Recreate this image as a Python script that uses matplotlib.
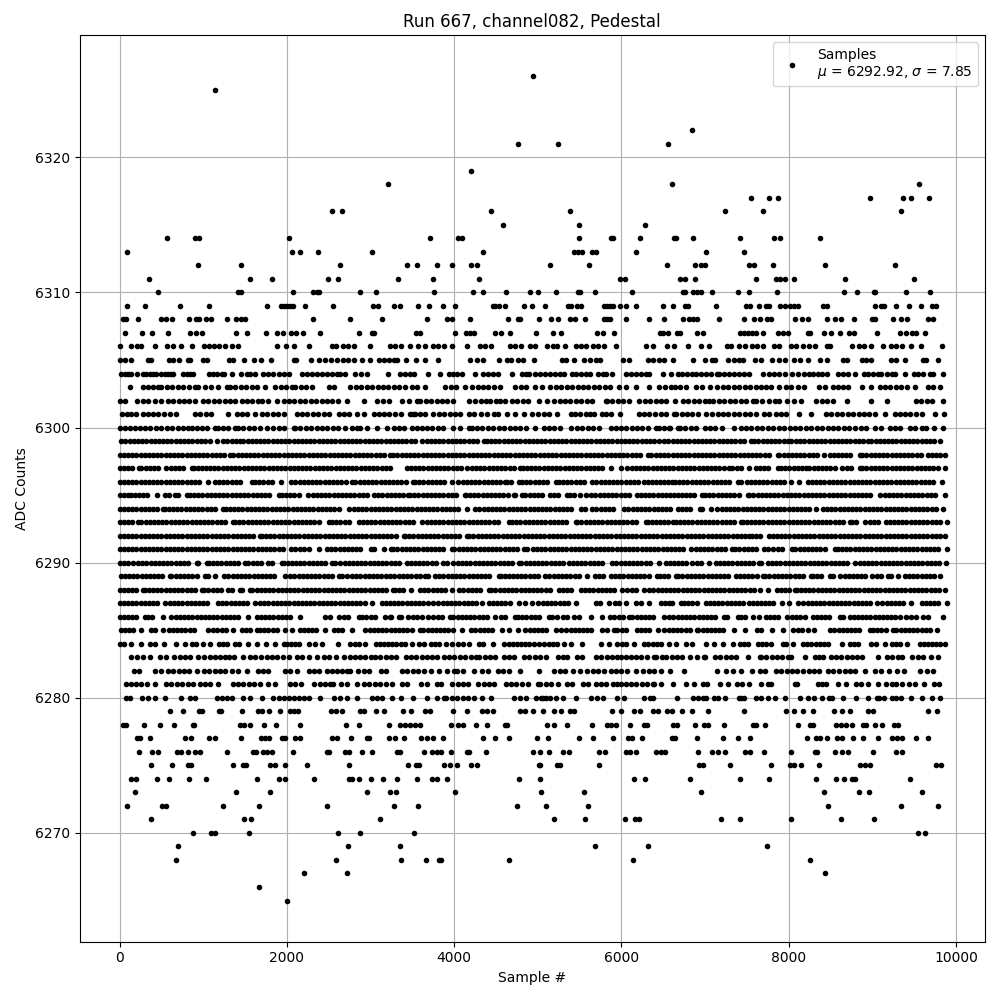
import matplotlib
matplotlib.use('Agg')
import matplotlib.pyplot as plt

# sample positions per ADC level (estimates in the dense rows)
row_6326 = [4940]
row_6325 = [1136]
row_6322 = [6840]
row_6321 = [4760, 5244, 6552]
row_6319 = [4196]
row_6318 = [3212, 6600, 9552]
row_6317 = [7548, 7764, 7872, 8976, 9372, 9468, 9672]
row_6316 = [2540, 2660, 4436, 5388, 7236, 7692, 9348]
row_6315 = [4580, 5496, 6276]
row_6314 = [572, 896, 948, 2024, 3716, 4052, 4088, 5496, 5880, 5904, 6228, 6624, 6648, 6852, 7416, 7824, 7896, 8376]
row_6313 = [92, 2060, 2156, 2372, 3020, 4340, 5436, 5484, 5532, 5652, 5700, 6180, 7008, 7464]
row_6312 = [932, 1448, 2636, 3440, 3560, 3800, 3980, 4196, 4268, 5148, 5616, 6540, 6876, 6948, 6996, 7524, 7584, 7812, 8436, 9276]
row_6311 = [356, 1556, 1820, 2492, 2612, 3332, 3752, 4292, 5988, 6048, 6696, 6756, 6876, 7608, 7848, 7896, 7956, 8064, 8676, 9504]
row_6310 = [464, 1412, 1448, 2072, 2312, 2360, 2384, 2876, 3068, 3764, 4220, 4340, 4616, 4904, 5000, 5220, 5484, 5508, 5688, 6132,
            6732, 6756, 6852, 6900, 6948, 7080, 7392, 7524, 7860, 8664, 8820, 9024, 9036, 9408, 9684]
row_6309 = [92, 308, 728, 1064, 1760, 1928, 1964, 2000, 2036, 2072, 2216, 2552, 3032, 3092, 3284, 3356, 3572, 3704, 3872, 4016,
            4460, 4484, 4532, 4604, 4832, 4928, 5088, 5364, 5400, 5472, 5520, 5796, 5832, 5868, 5904, 5988, 6060, 6180, 6492, 6612,
            6756, 6792, 7128, 7488, 7536, 7644, 7728, 7764, 7896, 7956, 8016, 8064, 8112, 8412, 8460, 9036, 9108, 9144, 9288, 9444,
            9576, 9708, 9756]
row_6308 = [44, 80, 224, 500, 560, 632, 824, 908, 944, 1028, 1088, 1280, 1388, 1448, 1496, 2312, 2756, 3140, 3680, 3920,
            3980, 4184, 4640, 4760, 4784, 5016, 5160, 5244, 5388, 5448, 5568, 5796, 5832, 5868, 6060, 6324, 6504, 6732, 6804, 6852,
            6900, 7164, 7464, 7584, 7656, 7740, 7788, 8076, 8160, 8232, 8460, 8556, 8628, 8784, 9000, 9036, 9252, 9348, 9420, 9660, 9720]
row_6307 = [68, 272, 392, 584, 836, 908, 980, 1388, 1520, 1748, 1880, 1952, 2048, 2108, 2192, 2396, 2864, 3020, 3044, 3548,
            3596, 4016, 4136, 4184, 4232, 4484, 4556, 4664, 4976, 5184, 5280, 5712, 5784, 5916, 6456, 6492, 6552, 6660, 6696, 6900,
            6972, 7416, 7464, 7512, 7560, 7608, 7692, 7872, 7932, 7992, 8232, 8256, 8424, 8508, 8616, 8724, 8784, 9060, 9336, 9408,
            9480, 9528, 9624]
row_6306 = [8, 140, 212, 260, 428, 572, 644, 740, 860, 1004, 1064, 1124, 1184, 1256, 1340, 1412, 1880, 1988, 2084, 2264,
            2540, 2588, 2672, 2732, 2804, 2996, 3236, 3296, 3368, 3476, 3572, 3656, 3752, 3812, 3884, 3980, 4148, 4304, 4364, 4436,
            4664, 4724, 4796, 4904, 4964, 5112, 5184, 5232, 5328, 5460, 5520, 5580, 5664, 5724, 5796, 5940, 6288, 6372, 6540, 6624,
            6792, 6948, 7044, 7260, 7308, 7404, 7476, 7560, 7620, 7692, 7824, 7884, 8028, 8088, 8172, 8244, 8316, 8460, 8496, 8760,
            8844, 8904, 8988, 9132, 9228, 9288, 9360, 9468, 9576, 9828]
row_6305 = [8, 68, 140, 344, 380, 596, 644, 716, 812, 836, 992, 1040, 1304, 1352, 1484, 1604, 1688, 1808, 2084, 2108,
            2288, 2384, 2456, 2528, 2600, 2672, 2732, 2804, 2900, 2996, 3104, 3164, 3224, 3284, 3320, 3428, 3548, 3656, 3812, 4184,
            4268, 4340, 4532, 4628, 4676, 4760, 4820, 4952, 5292, 5340, 5436, 5556, 5628, 5692, 5748, 6024, 6096, 6312, 6372, 6444,
            6504, 6612, 6852, 6996, 7080, 7116, 7272, 7344, 7404, 7452, 7596, 7668, 7800, 7884, 7956, 8064, 8136, 8232, 8376, 8460,
            8652, 8700, 8880, 8928, 8988, 9228, 9288, 9396, 9604, 9640, 9780]
row_6304 = [20, 60, 100, 140, 208, 280, 320, 360, 400, 440, 500, 540, 580, 620, 640, 760, 800, 840, 872, 1068,
            1120, 1170, 1220, 1252, 1340, 1452, 1520, 1560, 1620, 1720, 1780, 1840, 1900, 1960, 2020, 2180, 2240, 2300, 2360, 2420,
            2480, 2540, 2600, 2640, 2700, 2812, 2892, 2960, 3212, 3352, 3410, 3470, 3524, 3692, 3832, 3940, 3990, 4040, 4092, 4252,
            4340, 4400, 4460, 4520, 4692, 4812, 4860, 4900, 4972, 5030, 5090, 5150, 5210, 5270, 5312, 5404, 5460, 5520, 5580, 5620,
            5724, 5780, 5820, 5892, 6052, 6110, 6170, 6230, 6290, 6332, 6492, 6592, 6672, 6728, 6788, 6848, 6888, 6950, 7010, 7070,
            7148, 7168, 7230, 7290, 7350, 7410, 7470, 7520, 7696, 7768, 7830, 7890, 7950, 8040, 8108, 8188, 8240, 8296, 8350, 8400,
            8452, 8588, 8648, 8708, 8788, 8896, 8950, 9010, 9068, 9108, 9170, 9230, 9268, 9388, 9496, 9550, 9610, 9688, 9728, 9840]
row_6303 = [120, 280, 340, 400, 460, 500, 565, 630, 695, 760, 825, 900, 940, 1020, 1088, 1180, 1280, 1320, 1385, 1450,
            1515, 1580, 1645, 1740, 1860, 1925, 1990, 2060, 2100, 2165, 2230, 2300, 2500, 2560, 2760, 2825, 2890, 2955, 3020, 3085,
            3150, 3215, 3280, 3340, 3412, 3492, 3552, 3652, 3892, 3960, 4025, 4132, 4212, 4280, 4345, 4410, 4475, 4552, 4732, 4800,
            4865, 4972, 5052, 5152, 5212, 5280, 5345, 5410, 5475, 5540, 5605, 5670, 5735, 5800, 5865, 5972, 6052, 6172, 6332, 6452,
            6520, 6590, 6640, 6700, 6768, 6888, 6968, 7056, 7148, 7215, 7280, 7345, 7410, 7475, 7540, 7605, 7670, 7728, 7788, 7888,
            7968, 8028, 8108, 8188, 8368, 8430, 8528, 8588, 8650, 8708, 8880, 8988, 9088, 9150, 9215, 9280, 9345, 9410, 9508, 9668, 9730, 9808]
row_6302 = [0, 60, 212, 275, 340, 420, 500, 580, 640, 705, 770, 835, 900, 1000, 1060, 1125, 1190, 1255, 1320, 1385,
            1460, 1520, 1585, 1650, 1700, 1780, 1880, 1960, 2025, 2090, 2155, 2220, 2285, 2350, 2415, 2480, 2545, 2610, 2720, 2920,
            3080, 3150, 3220, 3372, 3460, 3552, 3592, 3660, 3725, 3790, 3852, 3912, 3992, 4172, 4252, 4320, 4385, 4432, 4500, 4552,
            4612, 4692, 4752, 4820, 4885, 5012, 5112, 5192, 5260, 5325, 5390, 5455, 5520, 5585, 5650, 5812, 5832, 5892, 5960, 6020,
            6090, 6212, 6280, 6345, 6410, 6472, 6532, 6640, 6732, 6800, 6865, 6930, 6995, 7048, 7100, 7165, 7230, 7295, 7360, 7425,
            7490, 7568, 7608, 7680, 7768, 7836, 7880, 7976, 8060, 8148, 8328, 8395, 8460, 8528, 8700, 8980, 9176, 9520, 9585, 9650, 9715, 9848]
row_6301 = [28, 85, 140, 200, 280, 340, 400, 460, 530, 600, 680, 900, 960, 1030, 1092, 1292, 1400, 1460, 1520, 1620,
            1700, 1765, 1830, 1895, 1960, 2120, 2180, 2245, 2310, 2375, 2440, 2500, 2620, 2680, 2745, 2840, 2920, 3040, 3100, 3160,
            3225, 3290, 3364, 3472, 3512, 3532, 3590, 3650, 3752, 3820, 3880, 3945, 4010, 4075, 4180, 4240, 4320, 4392, 4472, 4530,
            4632, 4724, 4832, 4932, 5000, 5072, 5140, 5232, 5392, 5450, 5510, 5572, 5620, 5672, 5772, 5812, 5870, 5980, 6212, 6270,
            6335, 6400, 6472, 6532, 6632, 6656, 6720, 6785, 6848, 6920, 7016, 7088, 7150, 7215, 7280, 7345, 7410, 7475, 7540, 7605,
            7708, 7768, 7848, 7908, 7968, 8120, 8268, 8448, 8510, 8575, 8640, 8705, 8770, 8835, 8900, 8965, 9028, 9148, 9268, 9328,
            9390, 9455, 9520, 9588, 9748, 9856]
row_6300 = [0, 60, 120, 180, 240, 300, 360, 440, 500, 565, 630, 695, 760, 820, 860, 920, 985, 1050, 1140, 1172,
            1235, 1300, 1380, 1420, 1480, 1545, 1610, 1675, 1760, 1840, 1900, 1965, 2080, 2100, 2160, 2225, 2290, 2355, 2420, 2485,
            2550, 2615, 2700, 2780, 2840, 2880, 2960, 3080, 3200, 3280, 3340, 3400, 3492, 3552, 3610, 3675, 3740, 3805, 3870, 3992,
            4072, 4172, 4212, 4272, 4337, 4402, 4467, 4532, 4597, 4662, 4727, 4792, 4857, 4972, 5072, 5132, 5197, 5262, 5392, 5472,
            5532, 5597, 5662, 5727, 5872, 5932, 5992, 6057, 6122, 6187, 6252, 6317, 6412, 6452, 6512, 6577, 6672, 6568, 6700, 6765,
            6830, 6895, 7000, 7056, 7120, 7208, 7348, 7428, 7490, 7555, 7620, 7685, 7750, 7815, 7880, 7945, 8010, 8075, 8140, 8205,
            8270, 8335, 8400, 8465, 8530, 8595, 8660, 8725, 8790, 8868, 8928, 9028, 9108, 9208, 9270, 9335, 9448, 9508, 9588, 9640, 9740, 9848]
row_6299 = [20, 70, 120, 170, 220, 270, 320, 370, 420, 470, 520, 570, 620, 670, 720, 770, 820, 870, 920, 970, 1020, 1080, 1160, 1240, 1290, 1340, 1390, 1440,
            1480, 1530, 1580, 1630, 1680, 1730, 1780, 1830, 1880, 1930, 1980, 2030, 2080, 2130, 2180, 2230, 2280, 2330, 2380, 2430, 2480, 2530, 2580, 2630, 2680, 2730,
            2780, 2830, 2880, 2930, 2980, 3030, 3080, 3130, 3180, 3230, 3280, 3330, 3380, 3430, 3480, 3530, 3612, 3672, 3722, 3772, 3822, 3872, 3922, 3972, 4022, 4072,
            4122, 4172, 4222, 4272, 4352, 4392, 4442, 4492, 4542, 4592, 4642, 4692, 4742, 4792, 4842, 4892, 4942, 4992, 5042, 5092, 5142, 5192, 5242, 5292, 5342, 5392,
            5442, 5492, 5542, 5592, 5642, 5692, 5742, 5792, 5842, 5892, 5942, 5992, 6042, 6092, 6142, 6192, 6242, 6292, 6342, 6392, 6444, 6512, 6562, 6612, 6662, 6712,
            6762, 6812, 6862, 6912, 6962, 7012, 7062, 7112, 7162, 7212, 7262, 7312, 7362, 7412, 7462, 7548, 7588, 7638, 7688, 7738, 7788, 7838, 7888, 7938, 7988, 8028,
            8088, 8138, 8188, 8238, 8288, 8338, 8388, 8438, 8488, 8538, 8588, 8638, 8688, 8738, 8788, 8838, 8888, 8948, 8988, 9038, 9088, 9138, 9188, 9238, 9288, 9338,
            9388, 9438, 9488, 9538, 9588, 9638, 9688, 9738, 9808]
row_6298 = [0, 50, 100, 150, 200, 250, 300, 350, 400, 450, 500, 550, 600, 650, 700, 750, 800, 850, 900, 950, 1000, 1050, 1100, 1150, 1200, 1250, 1320, 1360, 1410,
            1460, 1510, 1560, 1610, 1660, 1710, 1760, 1810, 1860, 1910, 1960, 2010, 2060, 2110, 2160, 2210, 2260, 2310, 2360, 2410, 2460, 2510, 2560, 2610, 2660, 2710,
            2760, 2810, 2860, 2910, 2960, 3010, 3060, 3110, 3160, 3232, 3272, 3322, 3372, 3422, 3472, 3522, 3572, 3622, 3672, 3722, 3772, 3822, 3872, 3922, 3972, 4022,
            4072, 4122, 4172, 4222, 4272, 4322, 4372, 4422, 4472, 4522, 4572, 4622, 4672, 4722, 4772, 4822, 4872, 4922, 4972, 5022, 5072, 5122, 5172, 5222, 5272, 5322,
            5372, 5422, 5472, 5522, 5572, 5622, 5672, 5722, 5772, 5822, 5872, 5922, 5972, 6022, 6072, 6122, 6172, 6222, 6312, 6352, 6412, 6462, 6512, 6562, 6612, 6662,
            6712, 6762, 6812, 6862, 6912, 6962, 7012, 7062, 7112, 7162, 7212, 7262, 7312, 7362, 7412, 7462, 7512, 7562, 7612, 7662, 7712, 7762, 7868, 7888, 7938, 7988,
            8038, 8088, 8138, 8188, 8238, 8288, 8338, 8428, 8488, 8538, 8588, 8638, 8688, 8738, 8848, 8880, 8930, 8980, 9030, 9080, 9130, 9180, 9230, 9280, 9330, 9380,
            9430, 9480, 9530, 9580, 9668, 9708, 9758, 9808, 9868]
row_6297 = [0, 50, 100, 150, 228, 260, 310, 360, 410, 460, 552, 612, 662, 712, 762, 860, 892, 932, 982, 1032, 1082, 1132, 1182, 1232, 1282, 1332, 1382, 1432, 1482,
            1532, 1582, 1632, 1682, 1732, 1782, 1832, 1882, 1932, 1982, 2032, 2082, 2132, 2182, 2232, 2282, 2332, 2382, 2432, 2482, 2532, 2582, 2632, 2682, 2732, 2782,
            2832, 2882, 2932, 2982, 3032, 3082, 3132, 3182, 3232, 3432, 3482, 3532, 3582, 3632, 3682, 3732, 3782, 3832, 3882, 3932, 3982, 4032, 4082, 4152, 4212, 4262,
            4312, 4362, 4412, 4462, 4512, 4562, 4612, 4662, 4712, 4792, 4820, 4870, 4920, 4970, 5020, 5070, 5120, 5170, 5220, 5270, 5320, 5370, 5420, 5470, 5520, 5572,
            5620, 5670, 5720, 5770, 5872, 6000, 6072, 6122, 6172, 6222, 6272, 6322, 6372, 6422, 6472, 6522, 6572, 6622, 6672, 6722, 6772, 6822, 6872, 6922, 6972, 7022,
            7072, 7122, 7172, 7222, 7288, 7328, 7378, 7428, 7528, 7608, 7658, 7708, 7758, 7868, 7908, 7958, 8008, 8058, 8108, 8158, 8208, 8248, 8298, 8348, 8398, 8448,
            8498, 8548, 8640, 8696, 8746, 8848, 8880, 8930, 8980, 9030, 9080, 9130, 9180, 9230, 9280, 9330, 9380, 9430, 9480, 9530, 9580, 9630, 9680, 9730, 9780, 9868]
row_6296 = [0, 50, 100, 150, 200, 250, 300, 350, 400, 450, 500, 550, 600, 650, 700, 750, 800, 850, 900, 950, 1060, 1140, 1190, 1240, 1290, 1340, 1390, 1440, 1580,
            1620, 1670, 1720, 1770, 1820, 1932, 2052, 2102, 2152, 2202, 2252, 2302, 2352, 2402, 2452, 2502, 2552, 2602, 2652, 2702, 2780, 2820, 2870, 2920, 2970, 3020,
            3070, 3120, 3170, 3220, 3270, 3320, 3370, 3420, 3504, 3532, 3582, 3632, 3682, 3732, 3782, 3832, 3882, 3972, 4052, 4102, 4152, 4202, 4252, 4302, 4352, 4402,
            4452, 4502, 4552, 4612, 4632, 4682, 4772, 4812, 4862, 4912, 4962, 5012, 5062, 5112, 5212, 5252, 5302, 5352, 5402, 5452, 5502, 5552, 5652, 5700, 5750, 5800,
            5850, 5900, 5950, 6000, 6050, 6100, 6150, 6200, 6272, 6312, 6362, 6412, 6462, 6512, 6562, 6608, 6640, 6690, 6740, 6790, 6840, 6890, 6940, 6990, 7040, 7090,
            7140, 7190, 7240, 7290, 7388, 7428, 7496, 7546, 7596, 7646, 7696, 7746, 7796, 7846, 7896, 7946, 8028, 8120, 8228, 8278, 8328, 8378, 8428, 8478, 8528, 8578,
            8628, 8678, 8728, 8778, 8828, 8878, 8928, 8978, 9028, 9078, 9128, 9178, 9228, 9278, 9328, 9378, 9428, 9478, 9528, 9578, 9628, 9678, 9728, 9828]
row_6295 = [0, 50, 100, 132, 182, 232, 282, 332, 452, 540, 590, 660, 700, 800, 840, 890, 940, 990, 1040, 1090, 1140, 1190, 1240, 1290, 1340, 1390, 1440, 1490, 1540,
            1590, 1640, 1690, 1740, 1790, 1900, 1940, 1990, 2040, 2090, 2140, 2252, 2308, 2358, 2408, 2458, 2508, 2558, 2608, 2658, 2708, 2758, 2808, 2858, 2908, 2958,
            3040, 3092, 3142, 3192, 3242, 3292, 3342, 3392, 3452, 3472, 3522, 3572, 3622, 3672, 3722, 3772, 3822, 3872, 3922, 3972, 4022, 4124, 4140, 4190, 4240, 4290,
            4340, 4390, 4440, 4490, 4540, 4590, 4640, 4712, 4732, 4812, 4852, 4902, 4952, 5002, 5052, 5152, 5192, 5242, 5352, 5380, 5430, 5500, 5580, 5640, 5690, 5740,
            5790, 5840, 5890, 5940, 5990, 6040, 6090, 6192, 6232, 6282, 6332, 6382, 6432, 6482, 6532, 6582, 6632, 6672, 6722, 6772, 6822, 6872, 6960, 7000, 7050, 7100,
            7150, 7200, 7250, 7300, 7350, 7400, 7508, 7528, 7578, 7628, 7678, 7728, 7778, 7828, 7878, 7928, 7978, 8028, 8078, 8128, 8178, 8228, 8278, 8328, 8378, 8428,
            8478, 8528, 8578, 8628, 8678, 8728, 8778, 8828, 8878, 8928, 8978, 9088, 9148, 9198, 9248, 9298, 9348, 9398, 9448, 9498, 9548, 9598, 9648, 9698, 9748, 9868]
row_6294 = [0, 50, 100, 150, 200, 250, 300, 350, 400, 450, 520, 540, 590, 640, 690, 740, 790, 840, 890, 940, 990, 1040, 1090, 1140, 1240, 1268, 1318, 1368, 1418, 1468,
            1518, 1568, 1618, 1668, 1718, 1768, 1818, 1868, 1918, 1968, 2018, 2068, 2118, 2168, 2218, 2268, 2318, 2368, 2418, 2468, 2518, 2568, 2618, 2740, 2800, 2850,
            2900, 2950, 3000, 3050, 3100, 3150, 3200, 3250, 3300, 3350, 3400, 3450, 3500, 3550, 3600, 3650, 3700, 3750, 3800, 3850, 3900, 3950, 4000, 4050, 4152, 4252,
            4302, 4352, 4402, 4452, 4502, 4552, 4602, 4652, 4702, 4752, 4802, 4852, 4902, 4952, 5002, 5052, 5102, 5152, 5202, 5252, 5302, 5352, 5402, 5512, 5564, 5652,
            5702, 5752, 5802, 5852, 5902, 6032, 6084, 6134, 6184, 6234, 6284, 6334, 6384, 6434, 6484, 6534, 6584, 6672, 6722, 6772, 6822, 6936, 6968, 7068, 7148, 7198,
            7248, 7298, 7348, 7398, 7448, 7498, 7548, 7598, 7648, 7698, 7748, 7798, 7848, 7898, 7948, 7998, 8048, 8098, 8148, 8198, 8248, 8328, 8408, 8458, 8508, 8558,
            8608, 8658, 8708, 8758, 8808, 8858, 8908, 8958, 9008, 9058, 9108, 9158, 9208, 9258, 9308, 9358, 9408, 9458, 9508, 9558, 9608, 9658, 9708, 9758, 9848]
row_6293 = [0, 52, 102, 152, 220, 260, 310, 360, 410, 460, 510, 560, 610, 660, 710, 760, 810, 860, 910, 960, 1010, 1060, 1110, 1160, 1210, 1260, 1360, 1380, 1430, 1480,
            1530, 1580, 1630, 1680, 1730, 1780, 1830, 1880, 1930, 1980, 2030, 2080, 2130, 2180, 2230, 2280, 2330, 2380, 2500, 2540, 2590, 2640, 2690, 2740, 2860, 2908,
            2958, 3008, 3058, 3108, 3158, 3208, 3258, 3308, 3358, 3408, 3458, 3508, 3620, 3672, 3722, 3772, 3822, 3872, 3922, 3972, 4022, 4072, 4122, 4172, 4222, 4272,
            4322, 4372, 4422, 4472, 4522, 4652, 4692, 4742, 4792, 4842, 4892, 4942, 4992, 5042, 5092, 5142, 5192, 5242, 5292, 5342, 5452, 5472, 5522, 5572, 5622, 5672,
            5722, 5772, 5822, 5872, 5922, 5972, 6022, 6072, 6122, 6172, 6292, 6312, 6362, 6412, 6462, 6512, 6562, 6620, 6648, 6698, 6748, 6798, 6848, 6898, 6948, 6998,
            7048, 7098, 7148, 7198, 7248, 7298, 7348, 7428, 7448, 7498, 7548, 7598, 7648, 7698, 7748, 7798, 7848, 7898, 7948, 7998, 8048, 8098, 8148, 8198, 8248, 8298,
            8348, 8398, 8448, 8498, 8548, 8598, 8648, 8728, 8760, 8810, 8908, 8968, 9018, 9068, 9168, 9208, 9258, 9308, 9358, 9408, 9458, 9508, 9558, 9608, 9658, 9708, 9758, 9808, 9888]
row_6292 = [0, 50, 100, 150, 200, 250, 300, 350, 400, 450, 500, 550, 600, 650, 700, 750, 800, 850, 900, 950, 1000, 1050, 1100, 1150, 1200, 1250, 1300, 1350, 1400, 1450,
            1500, 1550, 1600, 1680, 1700, 1750, 1800, 1850, 1900, 1950, 2000, 2050, 2100, 2150, 2200, 2250, 2300, 2350, 2400, 2450, 2500, 2550, 2600, 2650, 2700, 2750,
            2800, 2850, 2900, 2950, 3000, 3050, 3100, 3150, 3200, 3250, 3300, 3396, 3412, 3462, 3512, 3562, 3612, 3662, 3712, 3762, 3812, 3862, 3912, 3962, 4012, 4062, 4152,
            4180, 4230, 4280, 4330, 4380, 4430, 4480, 4530, 4580, 4630, 4680, 4730, 4780, 4830, 4880, 4930, 4980, 5030, 5080, 5130, 5180, 5230, 5280, 5330, 5380, 5430, 5480,
            5530, 5580, 5630, 5680, 5730, 5780, 5830, 5880, 5930, 5980, 6030, 6080, 6130, 6180, 6230, 6280, 6330, 6380, 6430, 6480, 6530, 6580, 6630, 6680, 6730, 6780, 6830,
            6880, 6930, 6980, 7030, 7080, 7130, 7180, 7230, 7280, 7330, 7380, 7430, 7480, 7528, 7560, 7610, 7660, 7760, 7808, 7858, 7908, 7958, 8008, 8058, 8108, 8158, 8208,
            8258, 8308, 8358, 8408, 8458, 8508, 8558, 8608, 8658, 8708, 8758, 8808, 8858, 8908, 8958, 9008, 9058, 9108, 9158, 9208, 9258, 9308, 9358, 9408, 9458, 9508, 9558,
            9608, 9658, 9708, 9758, 9808, 9868]
row_6291 = [0, 50, 100, 150, 200, 250, 300, 350, 400, 450, 500, 550, 600, 650, 700, 750, 800, 850, 900, 950, 1000, 1050, 1100, 1150, 1200, 1250, 1300, 1350, 1400, 1450,
            1500, 1550, 1600, 1650, 1700, 1750, 1800, 1850, 1900, 1950, 2052, 2100, 2160, 2210, 2260, 2380, 2480, 2530, 2580, 2630, 2680, 2730, 2780, 2830, 2880, 3000, 3040,
            3160, 3240, 3272, 3322, 3372, 3422, 3472, 3522, 3572, 3622, 3672, 3722, 3772, 3822, 3872, 3972, 4004, 4054, 4104, 4154, 4204, 4254, 4304, 4354, 4404, 4454, 4504,
            4554, 4604, 4654, 4704, 4754, 4832, 4872, 4940, 4992, 5042, 5092, 5142, 5192, 5242, 5292, 5342, 5392, 5444, 5492, 5542, 5592, 5642, 5692, 5742, 5792, 5842, 5892,
            5942, 5992, 6042, 6092, 6142, 6192, 6242, 6292, 6342, 6392, 6442, 6492, 6542, 6592, 6642, 6692, 6742, 6828, 6888, 6938, 6988, 7038, 7088, 7138, 7188, 7238, 7328,
            7360, 7410, 7460, 7510, 7560, 7610, 7708, 7748, 7808, 7868, 7918, 8040, 8080, 8130, 8180, 8230, 8280, 8330, 8380, 8430, 8548, 8588, 8638, 8688, 8738, 8788, 8838,
            8888, 8938, 8988, 9038, 9088, 9138, 9188, 9238, 9288, 9338, 9388, 9438, 9488, 9538, 9588, 9638, 9688, 9738, 9788, 9888]
row_6290 = [0, 50, 100, 160, 220, 270, 320, 370, 420, 470, 520, 570, 620, 670, 720, 770, 820, 920, 940, 1040, 1068, 1118, 1168, 1218, 1268, 1318, 1368, 1418, 1500, 1540,
            1590, 1640, 1690, 1780, 1820, 1940, 1960, 2010, 2060, 2110, 2160, 2210, 2260, 2310, 2360, 2410, 2460, 2540, 2580, 2640, 2690, 2740, 2790, 2840, 2890, 2940, 2990,
            3040, 3090, 3140, 3190, 3240, 3290, 3340, 3432, 3480, 3530, 3580, 3630, 3680, 3730, 3780, 3872, 3912, 3992, 4044, 4094, 4144, 4194, 4244, 4294, 4344, 4394, 4444,
            4494, 4544, 4594, 4644, 4694, 4772, 4804, 4854, 4904, 4954, 5004, 5054, 5104, 5154, 5204, 5254, 5304, 5372, 5420, 5470, 5520, 5570, 5620, 5670, 5720, 5770, 5892,
            5940, 5990, 6040, 6090, 6140, 6190, 6240, 6290, 6340, 6452, 6532, 6582, 6632, 6672, 6722, 6768, 6848, 6898, 6948, 7048, 7128, 7178, 7228, 7278, 7328, 7378, 7428,
            7478, 7528, 7578, 7648, 7668, 7748, 7800, 7850, 7900, 7950, 8000, 8050, 8100, 8150, 8200, 8250, 8300, 8350, 8400, 8450, 8500, 8550, 8600, 8650, 8700, 8788, 8848,
            8898, 8948, 8998, 9048, 9098, 9148, 9198, 9248, 9298, 9348, 9398, 9448, 9498, 9548, 9598, 9648, 9698, 9748, 9798, 9880]
row_6289 = [12, 62, 112, 162, 212, 262, 312, 362, 412, 462, 512, 600, 620, 670, 720, 770, 820, 870, 920, 1020, 1052, 1140, 1252, 1302, 1352, 1402, 1452, 1502, 1552, 1602,
            1652, 1702, 1752, 1802, 1852, 1980, 2040, 2090, 2140, 2190, 2240, 2290, 2340, 2390, 2440, 2490, 2540, 2620, 2660, 2720, 2780, 2830, 2880, 2930, 2980, 3030, 3080,
            3130, 3180, 3230, 3280, 3340, 3390, 3440, 3490, 3540, 3590, 3652, 3692, 3772, 3822, 3872, 3922, 3972, 4022, 4072, 4122, 4172, 4222, 4272, 4322, 4372, 4422, 4532,
            4564, 4612, 4652, 4702, 4752, 4802, 4852, 4902, 4952, 5002, 5092, 5140, 5190, 5240, 5290, 5340, 5390, 5440, 5490, 5592, 5684, 5734, 5784, 5872, 5924, 5974, 6024,
            6074, 6124, 6174, 6224, 6274, 6324, 6420, 6460, 6510, 6560, 6652, 6680, 6730, 6780, 6830, 6880, 6930, 6980, 7030, 7080, 7130, 7180, 7230, 7280, 7368, 7416, 7466,
            7516, 7566, 7616, 7688, 7720, 7770, 7820, 7870, 7920, 7970, 8020, 8070, 8120, 8170, 8268, 8288, 8338, 8388, 8488, 8528, 8616, 8668, 8718, 8768, 8818, 8868, 8918,
            9000, 9056, 9106, 9188, 9228, 9308, 9388, 9438, 9488, 9538, 9588, 9638, 9688, 9738, 9808]
row_6288 = [0, 50, 100, 150, 200, 280, 300, 350, 400, 450, 500, 550, 600, 650, 700, 750, 800, 850, 900, 980, 1012, 1062, 1112, 1162, 1212, 1300, 1340, 1440, 1460, 1560,
            1588, 1638, 1688, 1738, 1788, 1838, 1888, 1938, 1988, 2038, 2088, 2138, 2188, 2238, 2288, 2338, 2388, 2438, 2488, 2538, 2588, 2638, 2688, 2738, 2788, 2838, 2888,
            2938, 2988, 3038, 3088, 3138, 3188, 3272, 3292, 3342, 3392, 3484, 3592, 3642, 3692, 3742, 3792, 3842, 3892, 3972, 4060, 4110, 4160, 4210, 4260, 4310, 4412, 4444,
            4494, 4544, 4594, 4644, 4694, 4744, 4794, 4844, 4894, 4944, 4994, 5044, 5094, 5144, 5252, 5300, 5350, 5400, 5512, 5564, 5614, 5664, 5714, 5764, 5814, 5864, 5914,
            6012, 6072, 6122, 6172, 6272, 6332, 6382, 6432, 6482, 6532, 6582, 6632, 6682, 6732, 6782, 6832, 6882, 6932, 6982, 7032, 7082, 7132, 7182, 7232, 7282, 7332, 7382,
            7432, 7482, 7532, 7582, 7656, 7748, 7856, 7906, 7956, 8006, 8080, 8096, 8146, 8196, 8246, 8296, 8346, 8396, 8446, 8496, 8546, 8596, 8646, 8696, 8746, 8796, 8846,
            8896, 8946, 8996, 9046, 9096, 9146, 9196, 9246, 9296, 9346, 9396, 9446, 9496, 9546, 9596, 9646, 9696, 9746, 9796, 9868]
row_6287 = [0, 50, 100, 150, 200, 250, 300, 350, 400, 450, 540, 600, 650, 700, 750, 800, 850, 900, 950, 1000, 1050, 1180, 1228, 1278, 1328, 1378, 1428, 1478, 1528, 1620,
            1680, 1730, 1780, 1830, 1880, 1930, 1980, 2030, 2080, 2130, 2180, 2230, 2280, 2330, 2380, 2430, 2480, 2530, 2580, 2630, 2680, 2730, 2780, 2830, 2880, 2930, 3020,
            3132, 3182, 3232, 3282, 3332, 3382, 3432, 3482, 3532, 3582, 3632, 3682, 3752, 3812, 3862, 3912, 3962, 4012, 4062, 4112, 4162, 4212, 4262, 4332, 4412, 4462, 4512,
            4562, 4612, 4662, 4772, 4852, 4932, 5004, 5060, 5110, 5160, 5210, 5260, 5310, 5360, 5452, 5692, 5742, 5852, 5920, 5970, 6052, 6180, 6230, 6332, 6472, 6522, 6572,
            6608, 6708, 6748, 6798, 6848, 6908, 7008, 7058, 7108, 7158, 7208, 7258, 7308, 7358, 7408, 7458, 7528, 7568, 7618, 7668, 7718, 7768, 7818, 7920, 8000, 8108, 8176,
            8226, 8276, 8326, 8376, 8426, 8476, 8526, 8576, 8626, 8676, 8726, 8776, 8826, 8876, 8926, 8976, 9056, 9120, 9170, 9220, 9270, 9320, 9370, 9468, 9588, 9638, 9688,
            9738, 9788, 9888]
row_6286 = [0, 50, 100, 150, 200, 300, 340, 390, 520, 620, 670, 720, 770, 820, 870, 920, 970, 1020, 1070, 1120, 1170, 1220, 1270, 1320, 1370, 1420, 1540, 1640, 1690, 1740,
            1790, 1840, 1890, 1940, 1990, 2040, 2160, 2452, 2520, 2628, 2678, 2728, 2860, 2900, 2950, 3000, 3050, 3172, 3240, 3340, 3232, 3364, 3444, 3512, 3552, 3612, 3684,
            3752, 3802, 3852, 3952, 3992, 4042, 4092, 4142, 4192, 4242, 4292, 4342, 4392, 4492, 4564, 4614, 4724, 4764, 4814, 4864, 4914, 4964, 5014, 5132, 5172, 5232, 5300,
            5350, 5432, 5492, 5640, 5772, 5860, 5912, 5972, 6022, 6092, 6132, 6182, 6232, 6282, 6332, 6382, 6512, 6572, 6622, 6672, 6722, 6772, 6822, 6872, 6922, 6972, 7022,
            7072, 7122, 7228, 7268, 7388, 7428, 7478, 7568, 7640, 7728, 7778, 7828, 7878, 7976, 8040, 8090, 8140, 8190, 8296, 8336, 8386, 8436, 8486, 8608, 8648, 8728, 8776,
            8826, 8876, 8926, 8976, 9026, 9076, 9126, 9176, 9226, 9276, 9326, 9408, 9468, 9518, 9608, 9668, 9848]
row_6285 = [12, 62, 112, 162, 252, 372, 422, 520, 588, 638, 688, 738, 788, 838, 888, 1060, 1120, 1170, 1220, 1270, 1360, 1460, 1510, 1560, 1640, 1680, 1730, 1780, 1830, 1880,
            1980, 2060, 2152, 2202, 2252, 2302, 2352, 2460, 2564, 2614, 2664, 2780, 2940, 2990, 3040, 3090, 3140, 3190, 3240, 3290, 3340, 3392, 3442, 3492, 3592, 3632, 3682,
            3732, 3782, 3832, 3882, 3932, 3982, 4092, 4204, 4254, 4304, 4354, 4404, 4454, 4572, 4652, 4764, 4852, 4902, 4952, 5002, 5052, 5102, 5212, 5272, 5332, 5392, 5442,
            5492, 5542, 5592, 5642, 5772, 5832, 5912, 5952, 6002, 6052, 6192, 6232, 6282, 6332, 6432, 6512, 6568, 6618, 6668, 6718, 6768, 6818, 6908, 6920, 6970, 7020, 7070,
            7120, 7170, 7220, 7348, 7480, 7616, 7666, 7800, 7936, 8056, 8106, 8156, 8228, 8300, 8496, 8546, 8596, 8646, 8696, 8746, 8796, 8846, 8968, 9008, 9058, 9108, 9158,
            9248, 9288, 9338, 9388, 9438, 9488, 9538, 9588, 9638, 9688, 9768]
row_6284 = [0, 50, 140, 260, 360, 428, 532, 680, 780, 860, 910, 1000, 1080, 1188, 1238, 1288, 1380, 1432, 1532, 1640, 1752, 1860, 1960, 2000, 2050, 2100, 2150, 2260, 2340, 2420,
            2612, 2760, 2810, 2860, 2940, 3060, 3110, 3160, 3210, 3260, 3310, 3360, 3410, 3500, 3580, 3640, 3720, 3770, 3820, 3900, 3980, 4052, 4100, 4180, 4300, 4350, 4460,
            4600, 4650, 4700, 4750, 4800, 4850, 4900, 4950, 5020, 5072, 5132, 5182, 5232, 5312, 5392, 5524, 5752, 5852, 5952, 6004, 6054, 6152, 6272, 6322, 6372, 6422, 6472,
            6572, 6652, 6772, 6844, 7012, 7112, 7212, 7332, 7412, 7460, 7510, 7632, 7684, 7734, 7784, 7932, 7972, 8052, 8172, 8222, 8272, 8322, 8372, 8422, 8472, 8632, 8732,
            8782, 8832, 8980, 9044, 9152, 9232, 9282, 9332, 9412, 9564, 9614, 9664, 9714, 9764, 9814, 9872]
row_6283 = [140, 210, 280, 360, 480, 560, 652, 720, 780, 840, 932, 1012, 1075, 1140, 1200, 1260, 1308, 1372, 1480, 1560, 1620, 1685, 1760, 1820, 1885,
            1950, 2020, 2120, 2180, 2260, 2360, 2440, 2508, 2588, 2680, 2760, 2820, 2880, 2940, 3000, 3052, 3112, 3180, 3240, 3300, 3420, 3480, 3545,
            3610, 3680, 3740, 3800, 3880, 3940, 4000, 4065, 4130, 4200, 4260, 4300, 4365, 4430, 4490, 4600, 4660, 4720, 4840, 4900, 4965, 5030, 5100,
            5240, 5300, 5352, 5472, 5530, 5700, 5760, 5825, 5890, 5952, 6000, 6060, 6112, 6175, 6240, 6300, 6392, 6412, 6480, 6530, 6600, 6660, 6725,
            6820, 6900, 6985, 7000, 7120, 7180, 7245, 7310, 7372, 7512, 7652, 7668, 7730, 7795, 7860, 7920, 7992, 8032, 8192, 8312, 8360, 8408, 8500,
            8565, 8630, 8700, 8760, 8820, 8880, 9072, 9172, 9240, 9312, 9360, 9480, 9540, 9600, 9700, 9780]
row_6282 = [172, 232, 420, 500, 580, 640, 705, 770, 835, 920, 1012, 1072, 1140, 1200, 1260, 1340, 1420, 1528, 1652, 1712, 1772, 1972, 2040, 2120, 2260, 2320, 2385,
            2480, 2540, 2600, 2660, 2720, 2760, 2852, 2920, 2985, 3120, 3188, 3380, 3440, 3505, 3570, 3640, 3720, 3820, 3920, 4000, 4040, 4100, 4240,
            4332, 4404, 4520, 4580, 4660, 4792, 5016, 5192, 5260, 5320, 5424, 5508, 5592, 5660, 5725, 5790, 5872, 5940, 6000, 6072, 6172, 6260, 6325,
            6390, 6470, 6580, 6748, 7140, 7252, 7340, 7428, 7560, 7652, 7712, 7844, 7910, 7975, 8040, 8105, 8170, 8244, 8304, 8368, 8472, 8530, 8600,
            8668, 8733, 8798, 8912, 9032, 9100, 9200, 9292, 9384, 9564, 9648, 9720]
row_6281 = [80, 140, 200, 260, 325, 420, 560, 620, 685, 750, 815, 880, 960, 1020, 1085, 1172, 1352, 1412, 1480, 1552, 1612, 1680, 1780, 1860, 2040, 2100, 2165, 2320,
            2392, 2460, 2520, 2552, 2648, 2720, 2840, 2920, 2985, 3050, 3115, 3180, 3260, 3380, 3440, 3600, 3680, 3800, 3840, 3980, 4052, 4100, 4160, 4280, 4352,
            4412, 4480, 4620, 4680, 4745, 4810, 4880, 5000, 5024, 5100, 5160, 5240, 5352, 5412, 5540, 5604, 5700, 5760, 5820, 5900, 5950, 6000, 6060, 6120, 6180, 6245,
            6310, 6372, 6392, 6472, 6620, 6772, 6872, 6980, 7020, 7180, 7280, 7380, 7440, 7520, 7672, 7752, 7792, 8072, 8104, 8352, 8400, 8440, 8592, 8680, 8800,
            8860, 8952, 9072, 9160, 9232, 9280, 9360, 9440, 9512, 9612, 9740, 9800]
row_6280 = [80, 120, 272, 340, 420, 548, 740, 840, 900, 1160, 1220, 1280, 1340, 1472, 1556, 1700, 1832, 1900, 1960, 2020, 2080, 2140, 2200, 2260, 2400,
            2560, 2640, 2720, 2840, 3020, 3080, 3140, 3260, 3360, 3512, 3680, 3800, 3900, 3880, 3980, 4040, 4100, 4160, 4232, 4328, 4440, 4720,
            4784, 4860, 4980, 5100, 5040, 5060, 5150, 5220, 5300, 5460, 5640, 5712, 5780, 5952, 6036, 6264, 6340, 6380, 6660, 6860, 6920, 6980,
            7012, 7112, 7152, 7240, 7400, 7428, 7470, 7610, 7668, 7752, 7840, 7956, 8132, 8232, 8300, 8400, 8480, 8520, 8652, 8808, 8952, 9050, 9080,
            9140, 9230, 9280, 9348, 9468, 9588, 9708, 9804]
row_6279 = [608, 764, 944, 980, 1184, 1208, 1460, 1652, 1700, 1784, 1916, 2036, 2084, 2132, 2528, 2588, 2660, 2876, 2924, 3068,
            3164, 3392, 3488, 3656, 3716, 3992, 4148, 4328, 4388, 4460, 4784, 4844, 4940, 5064, 5196, 5280, 5388, 5436, 5892, 6000,
            6156, 6228, 6372, 6432, 6540, 6600, 6720, 6840, 7032, 7464, 7968, 8064, 8172, 8292, 8544, 8640, 8736, 8944, 9012, 9660, 9768]
row_6278 = [44, 80, 296, 488, 656, 872, 884, 1436, 1484, 1556, 1724, 1868, 2156, 2708, 2864, 3224, 3356, 3416, 3476, 3536,
            3596, 3968, 4052, 4100, 4256, 4388, 4604, 4628, 5112, 5196, 5352, 5652, 5832, 5880, 5940, 6108, 6264, 6300, 6612, 6660,
            6876, 6984, 7032, 7224, 7572, 7608, 7716, 8112, 8256, 8292, 8568, 8628, 8688, 8760, 8892, 8928, 9036, 9120, 9264, 9312]
row_6277 = [212, 248, 368, 788, 848, 1064, 1136, 1448, 1688, 1736, 1784, 1940, 1976, 2096, 2156, 2540, 2600, 2768, 2960, 2984,
            3224, 3296, 3404, 3608, 3680, 3752, 3872, 4340, 4484, 4652, 4988, 5124, 5496, 5664, 5904, 6084, 6132, 6252, 6600, 6636,
            6900, 7212, 7392, 7536, 8220, 8328, 8376, 8460, 8580, 8640, 8772, 8892, 9072, 9240, 9300, 9360, 9528, 9660]
row_6276 = [236, 392, 464, 692, 740, 812, 896, 956, 1280, 1592, 1628, 1712, 1760, 1820, 2072, 2480, 2504, 2696, 2744, 2900,
            3020, 3320, 3356, 3644, 3740, 3800, 3848, 3968, 4148, 4172, 4376, 4940, 5032, 5136, 5304, 5376, 5736, 5808, 6060, 6108,
            6180, 6408, 6468, 6516, 6912, 7080, 7152, 7236, 7476, 7536, 7704, 8028, 8316, 8340, 8556, 8640, 8712, 9012, 9288, 9360]
row_6275 = [380, 632, 812, 848, 1352, 1472, 1508, 1796, 1856, 1976, 2240, 2744, 3452, 3548, 3584, 3884, 3956, 4040, 4196, 4268,
            5012, 5032, 5232, 5268, 5736, 6924, 6972, 7296, 7788, 8016, 8064, 8148, 8364, 8856, 8916, 8976, 9756, 9816]
row_6274 = [140, 200, 452, 596, 824, 1028, 1640, 1904, 1976, 2324, 2744, 2780, 2864, 3008, 3152, 3320, 3560, 3740, 3800, 3920,
            4772, 5032, 6156, 6276, 6816, 7416, 7764, 8328, 8568, 8664, 8760, 8796, 9456]
row_6273 = [188, 1388, 1796, 2960, 3236, 3308, 4016, 5044, 5556, 6948, 8424, 8844, 8964, 9588]
row_6272 = [92, 512, 560, 1232, 1664, 2480, 3284, 3572, 4748, 5100, 5604, 8472, 9348, 9780]
row_6271 = [380, 1484, 1568, 3116, 5196, 5568, 6048, 6168, 6216, 7188, 7416, 8028, 8628, 9024]
row_6270 = [872, 1088, 1136, 1544, 2612, 2876, 3524, 9540, 9624]
row_6269 = [704, 2732, 3356, 5688, 6312, 7740]
row_6268 = [680, 2588, 3368, 3668, 3824, 3848, 4652, 6144, 8256]
row_6267 = [2204, 2720, 8436]
row_6266 = [1664]
row_6265 = [2000]

levels = [6326, 6325, 6322, 6321, 6319, 6318, 6317, 6316, 6315, 6314, 6313, 6312, 6311, 6310, 6309, 6308, 6307, 6306,
          6305, 6304, 6303, 6302, 6301, 6300, 6299, 6298, 6297, 6296, 6295, 6294, 6293, 6292, 6291, 6290, 6289, 6288, 6287,
          6286, 6285, 6284, 6283, 6282, 6281, 6280, 6279, 6278, 6277, 6276, 6275, 6274, 6273, 6272, 6271, 6270, 6269, 6268,
          6267, 6266, 6265]
rows = [row_6326, row_6325, row_6322, row_6321, row_6319, row_6318, row_6317, row_6316, row_6315, row_6314, row_6313,
        row_6312, row_6311, row_6310, row_6309, row_6308, row_6307, row_6306, row_6305, row_6304, row_6303, row_6302,
        row_6301, row_6300, row_6299, row_6298, row_6297, row_6296, row_6295, row_6294, row_6293, row_6292, row_6291,
        row_6290, row_6289, row_6288, row_6287, row_6286, row_6285, row_6284, row_6283, row_6282, row_6281, row_6280,
        row_6279, row_6278, row_6277, row_6276, row_6275, row_6274, row_6273, row_6272, row_6271, row_6270, row_6269,
        row_6268, row_6267, row_6266, row_6265]

mean_adc = 6292.92
sigma_adc = 7.85

x = []
y = []
for level, row in zip(levels, rows):
    x.extend(row)
    y.extend([level] * len(row))

plt.figure(figsize=(10, 10))
plt.plot(x, y, 'k.', label=f'Samples\n$\\mu$ = {mean_adc:.2f}, $\\sigma$ = {sigma_adc:.2f}')
plt.xlabel('Sample #')
plt.ylabel('ADC Counts')
plt.title('Run 667, channel082, Pedestal')
plt.grid(True)
plt.legend()
plt.tight_layout()
plt.subplots_adjust(top=0.965)
plt.xlim(-479, 10347)
plt.savefig('out.png')
